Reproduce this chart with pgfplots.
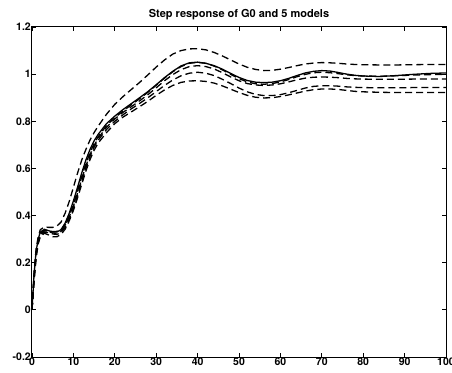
\documentclass[border=0pt]{standalone}
\usepackage{pgfplots}
\pgfplotsset{compat=1.18}
\usepackage{fontspec}
\setmainfont{TeX Gyre Heros}
\usetikzlibrary{calc}
\pgfplotstableread{
x S M1 M2 M3 M4 M5
0 0 0 0 0 0 0
0.5 0.15 0.16 0.14 0.14 0.13 0.12
1 0.25 0.26 0.24 0.24 0.23 0.22
1.5 0.30 0.31 0.295 0.29 0.285 0.28
2 0.33 0.34 0.325 0.32 0.315 0.31
3 0.342 0.352 0.338 0.335 0.330 0.325
4 0.336 0.350 0.332 0.335 0.328 0.318
5 0.330 0.350 0.326 0.332 0.322 0.310
6 0.330 0.355 0.325 0.333 0.320 0.310
7 0.340 0.372 0.333 0.340 0.328 0.320
8 0.368 0.410 0.358 0.360 0.350 0.342
9 0.410 0.460 0.398 0.395 0.385 0.378
10 0.462 0.520 0.448 0.440 0.430 0.422
11 0.520 0.580 0.505 0.495 0.485 0.475
12 0.580 0.635 0.565 0.555 0.545 0.532
13 0.635 0.680 0.620 0.610 0.600 0.588
14 0.680 0.720 0.667 0.658 0.650 0.637
15 0.717 0.752 0.705 0.697 0.690 0.677
16 0.745 0.780 0.735 0.728 0.720 0.708
18 0.790 0.830 0.782 0.775 0.765 0.752
20 0.822 0.872 0.815 0.810 0.800 0.790
22 0.850 0.905 0.844 0.838 0.828 0.818
24 0.875 0.935 0.870 0.862 0.853 0.840
26 0.900 0.965 0.896 0.887 0.876 0.862
28 0.926 0.997 0.923 0.913 0.900 0.885
30 0.955 1.030 0.953 0.942 0.926 0.910
32 0.985 1.060 0.983 0.972 0.952 0.933
34 1.012 1.085 1.010 0.998 0.975 0.952
36 1.035 1.100 1.032 1.019 0.993 0.965
38 1.048 1.107 1.046 1.032 1.004 0.971
40 1.051 1.108 1.050 1.036 1.008 0.972
42 1.046 1.103 1.046 1.032 1.004 0.969
44 1.036 1.092 1.034 1.022 0.994 0.962
46 1.021 1.077 1.018 1.006 0.978 0.950
48 1.003 1.060 0.999 0.988 0.960 0.936
50 0.986 1.043 0.981 0.972 0.941 0.922
52 0.973 1.029 0.967 0.960 0.925 0.910
54 0.966 1.020 0.959 0.954 0.914 0.902
56 0.964 1.015 0.957 0.952 0.909 0.899
58 0.966 1.016 0.960 0.954 0.909 0.900
60 0.972 1.021 0.967 0.959 0.913 0.905
62 0.982 1.028 0.977 0.967 0.921 0.912
64 0.994 1.036 0.989 0.976 0.931 0.920
66 1.005 1.043 0.999 0.983 0.941 0.928
68 1.012 1.047 1.006 0.987 0.948 0.934
70 1.015 1.049 1.008 0.988 0.951 0.937
72 1.013 1.048 1.006 0.987 0.951 0.937
74 1.007 1.046 1.002 0.985 0.949 0.935
76 1.000 1.043 0.997 0.982 0.946 0.931
78 0.995 1.041 0.994 0.980 0.944 0.927
80 0.992 1.040 0.992 0.979 0.943 0.925
84 0.990 1.039 0.991 0.978 0.942 0.923
88 0.994 1.039 0.993 0.978 0.942 0.922
92 0.999 1.040 0.996 0.979 0.943 0.922
96 1.003 1.041 0.998 0.979 0.943 0.922
100 1.005 1.041 0.999 0.979 0.943 0.922
}\datatable
\begin{document}
\begin{tikzpicture}
\begin{axis}[
  scale only axis,
  width=414pt, height=330pt,
  xmin=0, xmax=100, ymin=-0.2, ymax=1.2,
  xtick={0,10,...,100},
  ytick={-0.2,0,0.2,0.4,0.6,0.8,1,1.2},
  yticklabels={-0.2,0,0.2,0.4,0.6,0.8,1,1.2},
  xticklabels={0,10,20,30,40,50,60,70,80,90,100},
  tick align=inside,
  major tick length=4pt,
  tick style={black, line width=0.8pt},
  axis line style={line width=1pt},
  ticklabel style={font=\fontsize{10.5}{12}\selectfont\bfseries},
  yticklabel style={inner xsep=1pt},
  xticklabel style={inner ysep=1pt},
  /pgf/number format/assume math mode=true,
  title={\bfseries Step response of G0 and 5 models},
  title style={font=\fontsize{11}{12}\selectfont, inner sep=2pt, yshift=-1pt},
  clip=true,
]
\addplot[black, line width=1.3pt] table[x=x,y=S] {\datatable};
\addplot[black, line width=1.3pt, dash pattern=on 7pt off 4pt] table[x=x,y=M1] {\datatable};
\addplot[black, line width=1.3pt, dash pattern=on 7pt off 4pt] table[x=x,y=M2] {\datatable};
\addplot[black, line width=1.3pt, dash pattern=on 7pt off 4pt] table[x=x,y=M3] {\datatable};
\addplot[black, line width=1.3pt, dash pattern=on 7pt off 4pt] table[x=x,y=M4] {\datatable};
\addplot[black, line width=1.3pt, dash pattern=on 7pt off 4pt] table[x=x,y=M5] {\datatable};
\end{axis}
\pgfresetboundingbox
\path ($(current axis.south west)+(-32pt,-15pt)$) rectangle ($(current axis.north east)+(6pt,27pt)$);
\end{tikzpicture}
\end{document}
